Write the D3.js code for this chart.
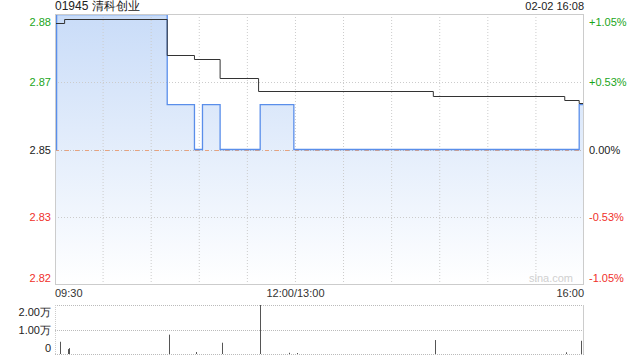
<!DOCTYPE html>
<html>
<head>
<meta charset="utf-8">
<title>01945 清科创业</title>
<script src="https://cdn.jsdelivr.net/npm/d3@7/dist/d3.min.js"></script>
<style>
  body { margin:0; background:#fff; }
  text { font-family: "Liberation Sans", Arial, sans-serif; }
</style>
</head>
<body>
<script>
// 数据：分钟序号（09:30 起，午间休市不计）
var stockName = "01945 清科创业";
var stamp = "02-02 16:08";
var preClose = 2.85;
var priceMin = [0, 1, 70, 87, 92, 103, 128, 149, 327];
var priceVal = [2.85, 2.88, 2.86, 2.85, 2.86, 2.85, 2.86, 2.85, 2.86];
var avgMin = [0, 6, 70, 87, 103, 127, 236, 318, 327];
var avgVal = [2.8781, 2.8790, 2.8710, 2.8701, 2.8660, 2.8630, 2.8620, 2.8610, 2.8603];
var volMin = [3, 8, 9, 71, 88, 104, 128, 146, 151, 237, 319, 328];
var volVal = [5000, 2000, 2400, 7900, 800, 4600, 20000, 500, 400, 5700, 700, 5400];
var pctTicks = [1.05, 0.53, 0, -0.53, -1.05];
var volTicks = [20000, 10000, 0];
var volLabels = ["2.00万", "1.00万", "0"];
var timeTicks = [0, 150, 330];
var timeLabels = ["09:30", "12:00/13:00", "16:00"];

var width = 640, height = 360;
var L = 55, R = 584, T = 14, B = 284;
var vT = 305, vB = 354;

var svg = d3.select("body").append("svg")
  .attr("width", width).attr("height", height);

var x = d3.scaleLinear().domain([0, 330]).range([L, R]);
var y = d3.scaleLinear()
  .domain([preClose * (1 - 0.0105), preClose * (1 + 0.0105)])
  .range([B, T + 1]);
var yv = d3.scaleLinear().domain([0, 20000]).range([vB, vT]);

function pc(p) { return preClose * (1 + p / 100); }
function col(p) { return p > 0 ? "#1aa51a" : (p < 0 ? "#f0302a" : "#222"); }

// 渐变
var grad = svg.append("defs").append("linearGradient")
  .attr("id", "fillg").attr("gradientUnits", "userSpaceOnUse")
  .attr("x1", 0).attr("y1", T).attr("x2", 0).attr("y2", B);
grad.append("stop").attr("offset", 0).attr("stop-color", "#c9dcf8");
grad.append("stop").attr("offset", 1).attr("stop-color", "#ffffff");

// 价格面积
var pts = priceMin.map(function(m, i) { return [m, priceVal[i]]; });
pts.push([330, priceVal[priceVal.length - 1]]);
svg.append("path").datum(pts)
  .attr("fill", "url(#fillg)")
  .attr("d", d3.area().curve(d3.curveStepAfter)
    .x(function(d) { return x(d[0]); })
    .y0(B).y1(function(d) { return y(d[1]); }));

// 网格
var g = svg.append("g");
g.selectAll(".vg").data(d3.range(1, 11)).enter().append("line")
  .attr("x1", function(d) { return x(d * 30); }).attr("x2", function(d) { return x(d * 30); })
  .attr("y1", T).attr("y2", B)
  .attr("stroke", "#ccc").attr("stroke-dasharray", "1,2");
g.selectAll(".hg").data([0.53, -0.53]).enter().append("line")
  .attr("x1", L).attr("x2", R)
  .attr("y1", function(d) { return Math.round(y(pc(d))) + 0.5; })
  .attr("y2", function(d) { return Math.round(y(pc(d))) + 0.5; })
  .attr("stroke", "#ccc").attr("stroke-dasharray", "1,2");
var y0 = Math.round(y(preClose)) + 0.5;
g.append("line").attr("x1", L).attr("x2", R).attr("y1", y0).attr("y2", y0)
  .attr("stroke", "#bbb").attr("stroke-dasharray", "1,2");
g.append("line").attr("x1", L).attr("x2", R).attr("y1", y0).attr("y2", y0)
  .attr("stroke", "#e9a27e").attr("stroke-dasharray", "4,6");

// 价格线
svg.append("path").datum(pts)
  .attr("fill", "none").attr("stroke", "#5a8eea").attr("stroke-width", 1.3)
  .attr("d", d3.line().curve(d3.curveStepAfter)
    .x(function(d) { return x(d[0]); })
    .y(function(d) { return y(d[1]); }));

// 均价线
var apts = avgMin.map(function(m, i) { return [m, avgVal[i]]; });
apts.push([330, avgVal[avgVal.length - 1]]);
svg.append("path").datum(apts)
  .attr("fill", "none").attr("stroke", "#333").attr("stroke-width", 1)
  .attr("d", d3.line().curve(d3.curveStepAfter)
    .x(function(d) { return x(d[0]); })
    .y(function(d) { return Math.round(y(d[1])) + 0.5; }));

// 边框
svg.append("rect").attr("x", L + 0.5).attr("y", T + 0.5)
  .attr("width", R - L - 1).attr("height", B - T)
  .attr("fill", "none").attr("stroke", "#ccc");

// 左右刻度
var axL = d3.axisLeft(y).tickValues(pctTicks.map(pc))
  .tickFormat(function(d) { return d.toFixed(2); }).tickSize(0).tickPadding(4);
var gl = svg.append("g").attr("transform", "translate(" + L + ",0)").call(axL);
var axR = d3.axisRight(y).tickValues(pctTicks.map(pc))
  .tickFormat(function(d, i) { var p = pctTicks[i]; return (p > 0 ? "+" : "") + p.toFixed(2) + "%"; })
  .tickSize(0).tickPadding(5);
var gr = svg.append("g").attr("transform", "translate(" + R + ",0)").call(axR);
[gl, gr].forEach(function(a) {
  a.select(".domain").remove();
  a.selectAll("text")
    .attr("font-size", 11)
    .attr("fill", function(d, i) { return col(pctTicks[i]); })
    .attr("dy", function(d, i) { return i == 0 ? "0.95em" : (i == pctTicks.length - 1 ? "-0.2em" : "0.32em"); });
});

// 标题
svg.append("text").attr("x", L).attr("y", 10).attr("font-size", 12).attr("fill", "#222").text(stockName);
svg.append("text").attr("x", R).attr("y", 10).attr("font-size", 11).attr("fill", "#222")
  .attr("text-anchor", "end").text(stamp);
svg.append("text").attr("x", 573).attr("y", 282).attr("font-size", 11).attr("fill", "#d0d0d0")
  .attr("text-anchor", "end").text("sina.com");

// 时间轴
svg.selectAll(".tl").data(timeTicks).enter().append("text")
  .attr("x", function(d) { return x(d); }).attr("y", 297)
  .attr("font-size", 11).attr("fill", "#333")
  .attr("text-anchor", function(d, i) { return i == 0 ? "start" : (i == 1 ? "middle" : "end"); })
  .text(function(d, i) { return timeLabels[i]; });

// 成交量
var gv = svg.append("g");
gv.selectAll(".vl").data(volTicks).enter().append("line")
  .attr("x1", L).attr("x2", R)
  .attr("y1", function(d) { return Math.round(yv(d)) + 0.5; })
  .attr("y2", function(d) { return Math.round(yv(d)) + 0.5; })
  .attr("stroke", "#bbb").attr("stroke-dasharray", "1,1");
gv.append("line").attr("x1", L + 0.5).attr("x2", L + 0.5).attr("y1", vT).attr("y2", vB)
  .attr("stroke", "#ccc").attr("stroke-dasharray", "1,1");
gv.append("line").attr("x1", R - 0.5).attr("x2", R - 0.5).attr("y1", vT).attr("y2", vB)
  .attr("stroke", "#ccc");
var axV = d3.axisLeft(yv).tickValues(volTicks)
  .tickFormat(function(d, i) { return volLabels[i]; }).tickSize(0).tickPadding(4);
var gvl = svg.append("g").attr("transform", "translate(" + L + ",0)").call(axV);
gvl.select(".domain").remove();
gvl.selectAll("text").attr("font-size", 11).attr("fill", "#222")
  .attr("dy", function(d, i) { return i == 0 ? "0.95em" : (i == volTicks.length - 1 ? "-0.2em" : "0.32em"); });
gv.selectAll(".bar").data(volMin).enter().append("line")
  .attr("x1", function(d) { return Math.round(x(d)) + 0.5; })
  .attr("x2", function(d) { return Math.round(x(d)) + 0.5; })
  .attr("y1", vB)
  .attr("y2", function(d, i) { return yv(volVal[i]); })
  .attr("stroke", "#555").attr("stroke-width", 1);
</script>
</body>
</html>
